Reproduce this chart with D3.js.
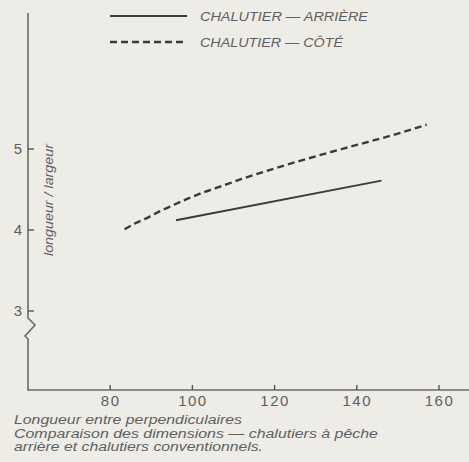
<!DOCTYPE html>
<html>
<head>
<meta charset="utf-8">
<script src="https://cdn.jsdelivr.net/npm/d3@7"></script>
<style>
    body { margin: 0; background: #eeece6; }
    svg { display: block; }
    text { font-family: 'Liberation Sans', Arial, sans-serif; fill: #5f5f5f; }
</style>
</head>
<body>
<script>
// Chalutier arrière (stern trawler)
const arriereLength = [96, 146];
const arriereRatio = [4.12, 4.61];

// Chalutier de côté (side trawler)
const coteLength = [83.5, 86, 89, 92, 95, 99, 103, 107, 112, 120, 130, 140, 150, 157];
const coteRatio = [4.01, 4.08, 4.15, 4.23, 4.30, 4.39, 4.47, 4.54, 4.63, 4.76, 4.91, 5.05, 5.19, 5.30];

const xTicks = [80, 100, 120, 140, 160];
const yTicks = [3, 4, 5];

const legendLabels = ['CHALUTIER — ARRIÈRE', 'CHALUTIER — CÔTÉ'];
const yLabel = 'longueur / largeur';
const caption = [
    'Longueur entre perpendiculaires',
    'Comparaison des dimensions — chalutiers à pêche',
    'arrière et chalutiers conventionnels.'
];

const width = 469,
    height = 462;

const svg = d3.select('body')
    .append('svg')
    .attr('width', width)
    .attr('height', height);

const x = d3.scaleLinear()
    .domain([60, 167.3])
    .range([28, 469]);

const y = d3.scaleLinear()
    .domain([3, 5])
    .range([311, 149]);

const axisY = 390,
    axisTop = 13;

const ink = '#3b3b3b',
    axisInk = '#6a6a6a';

// Y axis line with the break below 3
const y3 = y(3);
svg.append('path')
    .attr('d', [
        'M', x(60), axisTop,
        'L', x(60), y3 + 7,
        'L', x(60) + 7, y3 + 14,
        'L', x(60) - 3, y3 + 25,
        'L', x(60), y3 + 28,
        'L', x(60), axisY,
        'L', width, axisY
    ].join(' '))
    .attr('fill', 'none')
    .attr('stroke', axisInk)
    .attr('stroke-width', 1.6);

// X axis labels
const gx = svg.append('g')
    .attr('transform', 'translate(0,' + axisY + ')')
    .call(d3.axisBottom(x).tickValues(xTicks).tickSize(0).tickPadding(5.5));
gx.select('.domain').remove();
gx.selectAll('line').remove();
gx.selectAll('text')
    .attr('fill', '#5f5f5f')
    .style('font-size', '15px')
    .style('letter-spacing', '1.5px')
    .style('font-family', "'Liberation Sans', Arial, sans-serif");

// x ticks pointing up
svg.selectAll('.xtick')
    .data(xTicks)
    .enter()
    .append('path')
    .attr('class', 'xtick')
    .attr('d', d => 'M' + x(d) + ',' + axisY + 'V' + (axisY - 5))
    .attr('stroke', '#555')
    .attr('stroke-width', 1.4);

// Y axis labels
const gy = svg.append('g')
    .attr('transform', 'translate(' + x(60) + ',0)')
    .call(d3.axisLeft(y).tickValues(yTicks).tickFormat(d3.format('d')).tickSize(0).tickPadding(6));
gy.select('.domain').remove();
gy.selectAll('line').remove();
gy.selectAll('text')
    .attr('fill', '#5f5f5f')
    .style('font-size', '15px')
    .style('font-family', "'Liberation Sans', Arial, sans-serif");

// y ticks pointing right
svg.selectAll('.ytick')
    .data(yTicks)
    .enter()
    .append('path')
    .attr('class', 'ytick')
    .attr('d', d => 'M' + x(60) + ',' + y(d) + 'H' + (x(60) + 6))
    .attr('stroke', '#555')
    .attr('stroke-width', 1.4);

// Y label
svg.append('text')
    .attr('transform', 'translate(53,' + y(4.37) + ') rotate(-90)')
    .attr('text-anchor', 'middle')
    .style('font-size', '12px')
    .style('font-style', 'italic')
    .attr('textLength', 112)
    .attr('lengthAdjust', 'spacingAndGlyphs')
    .text(yLabel);

const line = d3.line()
    .x(d => x(d[0]))
    .y(d => y(d[1]));

svg.append('path')
    .datum(arriereLength.map((v, i) => [v, arriereRatio[i]]))
    .attr('d', line)
    .attr('fill', 'none')
    .attr('stroke', ink)
    .attr('stroke-width', 1.9);

svg.append('path')
    .datum(coteLength.map((v, i) => [v, coteRatio[i]]))
    .attr('d', line.curve(d3.curveMonotoneX))
    .attr('fill', 'none')
    .attr('stroke', ink)
    .attr('stroke-width', 2.4)
    .attr('stroke-dasharray', '7,4');

// Legend
const legend = svg.selectAll('.legend')
    .data(legendLabels)
    .enter()
    .append('g')
    .attr('class', 'legend')
    .attr('transform', (d, i) => 'translate(0,' + (16 + i * 26) + ')');

legend.append('line')
    .attr('x1', 110)
    .attr('x2', 187)
    .attr('stroke', ink)
    .attr('stroke-width', (d, i) => i ? 2.4 : 1.9)
    .attr('stroke-dasharray', (d, i) => i ? '7,4' : null);

legend.append('text')
    .attr('x', 200)
    .attr('y', 5)
    .style('font-size', '13px')
    .style('font-style', 'italic')
    .attr('textLength', (d, i) => i ? 143 : 168)
    .attr('lengthAdjust', 'spacingAndGlyphs')
    .text(d => d);

// Caption
const captionWidths = [228, 364, 249];
svg.selectAll('.caption')
    .data(caption)
    .enter()
    .append('text')
    .attr('class', 'caption')
    .attr('x', 14)
    .attr('y', (d, i) => 424 + i * 13.5)
    .style('font-size', '12.5px')
    .style('font-style', 'italic')
    .attr('textLength', (d, i) => captionWidths[i])
    .attr('lengthAdjust', 'spacingAndGlyphs')
    .text(d => d);
</script>
</body>
</html>
